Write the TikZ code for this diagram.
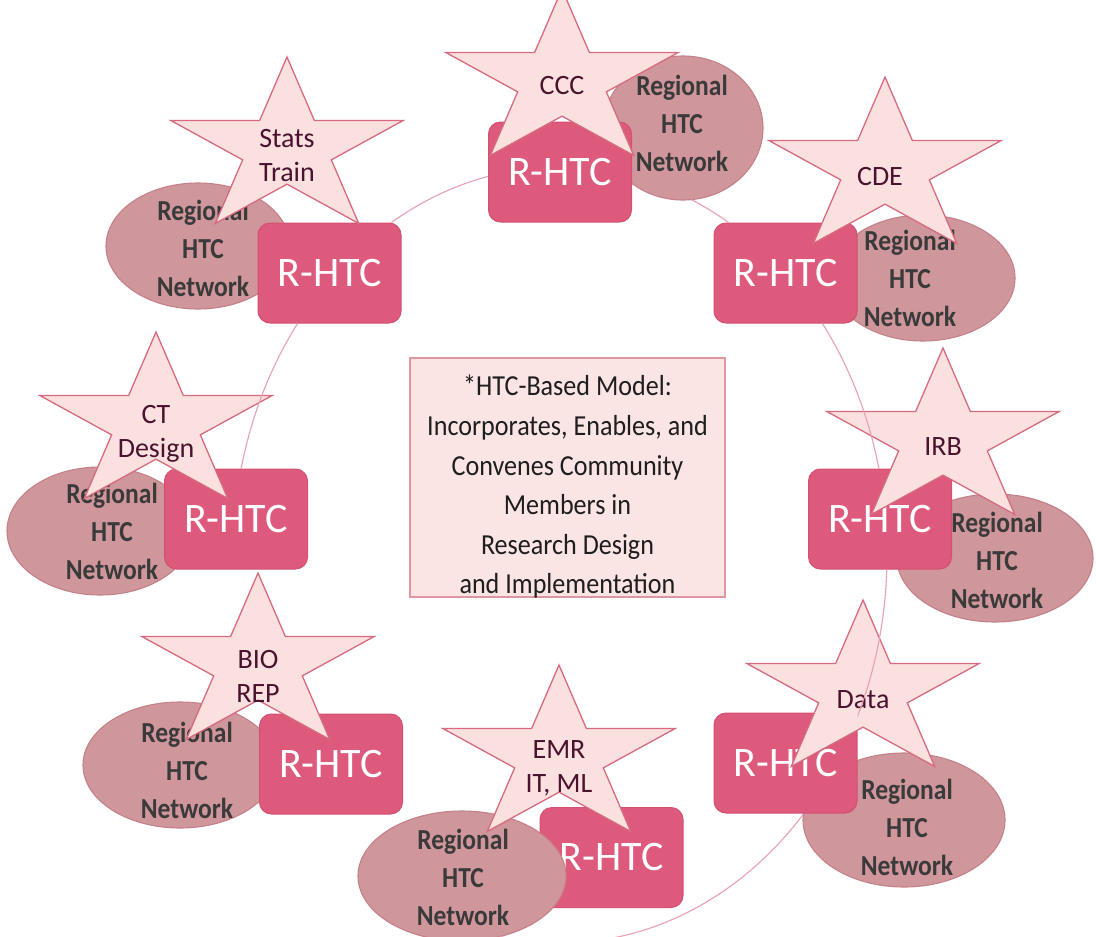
\documentclass[tikz,border=0pt]{standalone}
\usepackage{fontspec}
\setmainfont{Carlito}
\newfontfamily\regfont[FakeStretch=0.88]{Carlito}
\newfontfamily\midfont[FakeStretch=0.9]{Carlito}
\definecolor{regfill}{RGB}{207,150,155}
\definecolor{regline}{RGB}{198,128,136}
\definecolor{boxfill}{RGB}{221,90,124}
\definecolor{boxline}{RGB}{212,80,114}
\definecolor{starfill}{RGB}{250,224,222}
\definecolor{starline}{RGB}{214,106,128}
\definecolor{midfill}{RGB}{251,228,228}
\definecolor{midline}{RGB}{222,150,160}
\definecolor{arccol}{RGB}{232,160,178}
\definecolor{startxt}{RGB}{75,18,48}
\definecolor{regtxt}{RGB}{58,58,58}
\definecolor{midtxt}{RGB}{30,30,30}
\tikzset{
  regshape/.style={ellipse, fill=regfill, draw=regline, line width=1.1pt, inner sep=0pt},
  regtext/.style={font=\regfont\bfseries\fontsize{29}{38}\selectfont, text=regtxt, align=center, inner sep=0pt},
  hbox/.style={rectangle, rounded corners=12pt, fill=boxfill, draw=boxline, line width=1pt,
    minimum width=143pt, minimum height=100pt, text=white, font=\fontsize{42}{48}\selectfont, inner sep=0pt},
  startext/.style={font=\fontsize{28}{34}\selectfont, text=startxt, align=center, inner sep=0pt},
  starbody/.style={fill=starfill, draw=starline, line width=1.3pt, line join=miter},
  pics/starshape/.style={code={
    \path[starbody] (270:1) -- (306:0.382) -- (342:1) -- (18:0.382) -- (54:1) -- (90:0.382)
      -- (126:1) -- (162:0.382) -- (198:1) -- (234:0.382) -- cycle;
  }},
  midbox/.style={rectangle, fill=midfill, draw=midline, line width=1.2pt, minimum width=315pt,
    minimum height=239pt},
  midtext/.style={align=center, font=\midfont\fontsize{29}{39.6}\selectfont, text=midtxt, inner sep=0pt},
  ring/.style={draw=arccol, line width=1.1pt}
}
\usetikzlibrary{shapes.geometric}
\begin{document}
\begin{tikzpicture}[x=1pt, y=-1pt]
\useasboundingbox (0,0) rectangle (1096,937);
\fill[white] (0,0) rectangle (1096,937);

% centre statement
\node[midbox] (model) at (567.5,477.5) {};
\node[midtext] (modelt) at (567.5,487) {*HTC-Based Model:\\Incorporates, Enables, and\\Convenes Community\\Members in\\Research Design\\and Implementation};

% regional networks and hubs
\node[regshape, minimum width=184pt, minimum height=126pt] (r1) at (198,246) {};
\node[regtext] (r1t) at (203,248) {Regional\\HTC\\Network};
\node[hbox] (b1) at (329.5,273) {R-HTC};

\node[regshape, minimum width=160pt, minimum height=144pt] (r2) at (683,128) {};
\node[regtext] (r2t) at (682,123) {Regional\\HTC\\Network};
\node[hbox] (b2) at (560,172) {R-HTC};

\node[regshape, minimum width=184pt, minimum height=126pt] (r3) at (923,278) {};
\node[regtext] (r3t) at (910,278) {Regional\\HTC\\Network};
\node[hbox] (b3) at (785.5,273) {R-HTC};

\node[regshape, minimum width=186pt, minimum height=128pt] (r4) at (100,531) {};
\node[regtext] (r4t) at (112,531) {Regional\\HTC\\Network};
\node[hbox] (b4) at (236,519) {R-HTC};

\node[regshape, minimum width=196pt, minimum height=128pt] (r5) at (995,558) {};
\node[regtext] (r5t) at (997,560) {Regional\\HTC\\Network};
\node[hbox] (b5) at (880,519) {R-HTC};

\node[regshape, minimum width=194pt, minimum height=126pt] (r6) at (180,765) {};
\node[regtext] (r6t) at (187,770) {Regional\\HTC\\Network};
\node[hbox] (b6) at (331,764) {R-HTC};

\node[hbox] (b7) at (611.5,857.5) {R-HTC};
\node[regshape, minimum width=208pt, minimum height=130pt] (r7) at (462,876) {};
\node[regtext] (r7t) at (463,877) {Regional\\HTC\\Network};

\node[regshape, minimum width=202pt, minimum height=134pt] (r8) at (904,820) {};
\node[regtext] (r8t) at (907,827) {Regional\\HTC\\Network};
\node[hbox] (b8) at (785.5,763) {R-HTC};

% stars with the shared services
\pic[xscale=122, yscale=92] at (287,149) {starshape};
\node[startext] (s1) at (287,156) {Stats\\Train};
\pic[xscale=122, yscale=92] at (562,81) {starshape};
\node[startext] (s2) at (562,86) {CCC};
\pic[xscale=122, yscale=92] at (885,169) {starshape};
\node[startext] (s3) at (880,177) {CDE};
\pic[xscale=122, yscale=92] at (156,424) {starshape};
\node[startext] (s4) at (156,434) {CT\\Design};
\pic[xscale=122, yscale=92] at (943,440) {starshape};
\node[startext] (s5) at (943,447) {IRB};
\pic[xscale=122, yscale=92] at (258,665) {starshape};
\node[startext] (s6) at (258,676) {BIO\\REP};
\pic[xscale=122, yscale=92] at (559,757) {starshape};
\node[startext] (s7) at (559,768) {EMR\\IT, ML};
\pic[xscale=122, yscale=92] at (863,692) {starshape};
\node[startext] (s8) at (863,700) {Data};

% ring linking the hubs, kept off the hubs, the network ovals and the lower left gap
\coordinate (ringc) at (560,555);
\begin{scope}[even odd rule]
  \clip (-20,-20) rectangle (1116,957)
    (b1.south west) rectangle (b1.north east) (b2.south west) rectangle (b2.north east)
    (b3.south west) rectangle (b3.north east) (b4.south west) rectangle (b4.north east)
    (b5.south west) rectangle (b5.north east) (b6.south west) rectangle (b6.north east)
    (b7.south west) rectangle (b7.north east) (b8.south west) rectangle (b8.north east);
  \clip (-20,-20) rectangle (1116,957)
    (r1) ellipse [x radius=92, y radius=63] (r2) ellipse [x radius=80, y radius=72]
    (r3) ellipse [x radius=92, y radius=63] (r4) ellipse [x radius=93, y radius=64]
    (r5) ellipse [x radius=98, y radius=64] (r6) ellipse [x radius=97, y radius=63]
    (r7) ellipse [x radius=104, y radius=65] (r8) ellipse [x radius=101, y radius=67];
  \clip (-20,-20) rectangle (1116,957) (190,569) rectangle (440,957);
  \draw[ring] (ringc) ellipse [x radius=327, y radius=388];
\end{scope}
\end{tikzpicture}
\end{document}
